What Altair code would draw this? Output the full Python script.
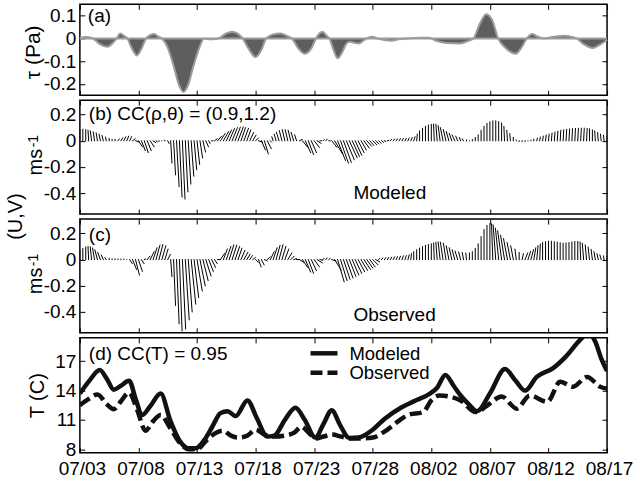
import altair as alt
import pandas as pd

FONT = "Liberation Sans"
FS = 19

# ---------------- data ----------------
X_TICKS = [0, 5, 10, 15, 20, 25, 30, 35, 40, 45]
X_LABELS = ["07/03", "07/08", "07/13", "07/18", "07/23", "07/28",
            "08/02", "08/07", "08/12", "08/17"]
STICK_STEP_DAYS = 0.25

# panel (a): wind stress tau (Pa), days since 07/03
TAU_DAY = [0, 0.5, 1.1, 1.7, 2.36, 2.9, 3.15, 3.44, 3.8, 4.05, 4.45, 4.86, 5.3, 5.65,
           6.0, 6.34, 6.7, 7.0, 7.5, 8.0, 8.5, 8.84, 9.2, 9.7, 10.2, 10.6, 11.0, 11.6,
           12.0, 12.5, 13.0, 13.5, 13.9, 14.4, 15.0, 15.5, 15.9, 16.5, 17.14, 17.7,
           18.1, 18.6, 19.2, 19.8, 20.15, 20.7, 21.1, 21.3, 21.65, 22.0, 22.4, 22.8,
           23.1, 23.5, 23.8, 24.2, 24.5, 24.9, 25.4, 26.0, 26.6, 27.2, 28.0, 29.0,
           29.8, 30.4, 31.3, 32.4, 33.1, 33.6, 34.1, 34.7, 35.2, 35.7, 36.3, 37.2,
           37.7, 38.15, 38.6, 39.0, 39.6, 40.5, 41.3, 42.0, 42.4, 43.0, 43.8, 44.3, 45.0]
TAU = [0.0, 0.006, 0.0, -0.025, -0.037, -0.015, 0.0, 0.022, 0.01, 0.0, -0.045, -0.075,
       -0.04, 0.0, 0.015, 0.02, 0.008, 0.0, -0.04, -0.12, -0.21, -0.236, -0.21, -0.12,
       -0.04, 0.0, -0.004, -0.003, 0.005, 0.022, 0.03, 0.02, 0.0, -0.045, -0.082, -0.05,
       0.0, 0.018, 0.022, 0.01, 0.0, -0.04, -0.067, -0.04, 0.0, 0.03, 0.01, 0.0, -0.05,
       -0.087, -0.06, -0.02, -0.015, -0.02, -0.022, -0.01, 0.0, 0.007, 0.0, -0.007,
       -0.01, -0.004, 0.0, 0.003, 0.003, -0.01, -0.02, -0.022, -0.012, 0.0, 0.06, 0.107,
       0.08, 0.0, -0.04, -0.067, -0.04, 0.0, 0.02, 0.01, 0.0, 0.008, 0.012, 0.007, 0.0,
       -0.025, -0.042, -0.03, -0.007]

# panel (b): modeled current sticks (m/s), one every 0.25 day
VB = [0.085, 0.087, 0.085, 0.08, 0.075, 0.068, 0.06, 0.05, 0.04, 0.028, 0.017, 0.01, 0.01, 0.014, 0.022, 0.03, 0.035, 0.031, 0.015, -0.01,
      -0.045, -0.075, -0.09, -0.075, -0.045, -0.015, -0.008, -0.005, 0.0, 0.004, -0.02, -0.17, -0.26, -0.35, -0.43, -0.445, -0.39, -0.33, -0.27, -0.22,
      -0.18, -0.13, -0.085, -0.045, -0.02, 0.0, 0.015, 0.035, 0.055, 0.07, 0.083, 0.093, 0.1, 0.104, 0.105, 0.1, 0.095, 0.082, 0.063, 0.042,
      0.02, -0.01, -0.07, -0.1, -0.06, -0.01, 0.03, 0.05, 0.065, 0.077, 0.085, 0.084, 0.08, 0.065, 0.045, 0.01, -0.05, -0.09, -0.105, -0.09,
      -0.05, -0.02, 0.0, 0.01, 0.012, 0.0, -0.05, -0.1, -0.15, -0.17, -0.165, -0.145, -0.13, -0.12, -0.11, -0.09, -0.07, -0.055, -0.04, -0.035,
      -0.03, -0.025, -0.02, -0.012, -0.005, 0.003, 0.01, 0.013, 0.015, 0.016, 0.017, 0.018, 0.02, 0.024, 0.03, 0.05, 0.075, 0.095, 0.11, 0.12,
      0.125, 0.127, 0.125, 0.115, 0.1, 0.085, 0.07, 0.057, 0.045, 0.035, 0.025, 0.015, 0.006, 0.0, 0.01, 0.025, 0.045, 0.08, 0.11, 0.133,
      0.145, 0.152, 0.152, 0.146, 0.135, 0.11, 0.08, 0.054, 0.025, 0.005, -0.005, -0.006, -0.005, 0.0, 0.005, 0.012, 0.02, 0.028, 0.035, 0.043,
      0.05, 0.058, 0.065, 0.073, 0.08, 0.084, 0.087, 0.09, 0.092, 0.094, 0.095, 0.096, 0.096, 0.094, 0.09, 0.083, 0.075, 0.062, 0.05, 0.042,
      0.035]
UB = [0, 0, 0, -0.005, -0.01, -0.01, -0.01, -0.01, -0.01, -0.005, 0, 0, 0, 0.01, 0.015, 0.015, 0.015, 0.015, 0.02, 0.03,
      0.03, 0.03, 0.03, 0.03, 0.03, 0.02, 0.01, 0, 0, 0, 0.01, 0.01, 0.015, 0.02, 0.02, 0.02, 0.02, 0.02, 0.02, 0.02,
      0.02, 0.02, 0.02, 0.02, 0.01, 0.01, 0.02, 0.03, 0.035, 0.04, 0.04, 0.04, 0.04, 0.04, 0.04, 0.035, 0.035, 0.03, 0.03, 0.025,
      0.02, 0.03, 0.03, 0.03, 0.03, 0.01, -0.01, -0.015, -0.02, -0.02, -0.02, -0.02, -0.02, -0.02, -0.015, 0.02, 0.04, 0.04, 0.04, 0.04,
      0.04, 0.03, 0.01, 0.01, 0.01, 0.01, 0.04, 0.06, 0.06, 0.06, 0.06, 0.06, 0.06, 0.055, 0.05, 0.045, 0.04, 0.04, 0.035, 0.03,
      0.03, 0.025, 0.02, 0.015, 0.01, 0.01, 0.01, 0.01, 0.01, 0.01, 0.01, 0.01, 0.01, 0.01, 0.01, 0.005, 0, 0, 0, 0,
      0, -0.005, -0.01, -0.015, -0.02, -0.02, -0.02, -0.02, -0.02, -0.015, -0.01, -0.01, 0, 0, 0, 0, 0, 0, 0, 0,
      0, 0, 0, 0, 0, -0.005, -0.005, -0.005, 0, 0, 0, 0, 0, 0, 0, 0, 0.005, 0.005, 0.005, 0.005,
      0.005, 0.005, 0.005, 0.005, 0.005, 0.005, 0.005, 0.005, 0.005, 0.005, 0.005, 0.005, 0.005, 0.005, 0, 0, -0.005, -0.005, -0.005, -0.005,
      0]

# panel (c): observed current sticks (m/s)
VC = [0.07, 0.085, 0.095, 0.1, 0.097, 0.088, 0.075, 0.055, 0.035, 0.015, 0.008, 0.005, 0.005, 0.004, 0.004, 0.003, 0.0, -0.03, -0.075, -0.118,
      -0.09, -0.03, 0.005, 0.025, 0.06, 0.09, 0.11, 0.115, 0.105, 0.08, 0.04, -0.13, -0.35, -0.49, -0.545, -0.53, -0.46, -0.4, -0.34, -0.29,
      -0.24, -0.2, -0.16, -0.125, -0.09, -0.06, -0.03, 0.0, 0.045, 0.08, 0.1, 0.112, 0.11, 0.1, 0.087, 0.07, 0.055, 0.04, 0.03, 0.015,
      -0.02, -0.055, -0.04, -0.01, 0.02, 0.06, 0.09, 0.108, 0.112, 0.1, 0.08, 0.05, 0.025, 0.008, 0.0, -0.02, -0.06, -0.095, -0.105, -0.085,
      -0.055, -0.025, -0.005, 0.01, 0.012, 0.008, -0.01, -0.08, -0.17, -0.16, -0.15, -0.14, -0.128, -0.118, -0.105, -0.093, -0.083, -0.075, -0.065, -0.055,
      -0.04, -0.018, 0.01, 0.012, 0.014, 0.016, 0.018, 0.02, 0.022, 0.025, 0.028, 0.03, 0.035, 0.045, 0.06, 0.075, 0.088, 0.1, 0.108, 0.115,
      0.12, 0.126, 0.132, 0.134, 0.132, 0.125, 0.105, 0.09, 0.075, 0.065, 0.058, 0.053, 0.05, 0.05, 0.06, 0.085, 0.12, 0.175, 0.23, 0.26,
      0.275, 0.272, 0.265, 0.24, 0.22, 0.185, 0.16, 0.13, 0.105, 0.08, 0.055, 0.045, 0.05, 0.062, 0.075, 0.09, 0.105, 0.118, 0.13, 0.136,
      0.14, 0.14, 0.136, 0.133, 0.128, 0.125, 0.126, 0.13, 0.134, 0.138, 0.138, 0.134, 0.125, 0.112, 0.095, 0.078, 0.06, 0.045, 0.035, 0.028,
      0.025]
UC = [0, 0, 0, -0.005, -0.01, -0.015, -0.02, -0.02, -0.015, -0.01, 0, 0, 0, 0, 0, 0, 0, 0.02, 0.03, 0.03,
      0.03, 0.02, 0.01, 0.02, 0.03, 0.03, 0.03, 0.03, 0.03, 0.025, 0.02, 0.01, 0.015, 0.02, 0.02, 0.025, 0.03, 0.03, 0.035, 0.035,
      0.04, 0.04, 0.04, 0.04, 0.035, 0.03, 0.02, 0.02, 0.03, 0.03, 0.035, 0.035, 0.035, 0.035, 0.03, 0.03, 0.03, 0.025, 0.02, 0.02,
      0.02, 0.02, 0.02, 0.02, 0.02, 0.03, 0.03, 0.03, 0.03, 0.03, 0.03, 0.03, 0.025, 0.02, 0.02, 0.03, 0.04, 0.04, 0.04, 0.04,
      0.04, 0.04, 0.02, 0.01, 0.01, 0.01, 0.03, 0.05, 0.05, 0.05, 0.05, 0.05, 0.05, 0.05, 0.05, 0.05, 0.05, 0.05, 0.045, 0.04,
      0.04, 0.03, 0.01, 0.01, 0.01, 0.01, 0.01, 0.01, 0.01, 0.01, 0.01, 0.01, 0.01, 0.005, 0, 0, 0, 0, 0, 0,
      0, -0.005, -0.01, -0.015, -0.02, -0.02, -0.02, -0.02, -0.02, -0.02, -0.015, -0.01, -0.005, 0, 0, 0, 0, 0, 0, 0,
      0, -0.01, -0.02, -0.025, -0.03, -0.03, -0.03, -0.025, -0.02, -0.01, 0, 0.01, 0.02, 0.02, 0.02, 0.015, 0.01, 0.005, 0, 0,
      0, 0, 0, 0, 0, 0, 0, 0, 0, 0, 0, -0.005, -0.01, -0.01, -0.01, -0.01, -0.01, -0.01, -0.01, -0.005,
      0]

# panel (d): temperature (C)
TM_DAY = [0, 0.8, 1.7, 2.3, 2.9, 3.5, 4.2, 4.8, 5.3, 6.0, 6.9, 7.7, 8.5, 9.3, 9.9, 10.6,
          11.3, 12.0, 12.6, 13.3, 14.3, 15.1, 16.0, 16.6, 17.5, 18.4, 19.2, 20.1, 20.8,
          21.5, 22.2, 23.0, 23.8, 25.0, 26.0, 27.4, 28.5, 29.9, 30.5, 31.2, 31.9, 32.5,
          33.2, 33.9, 35.0, 36.3, 37.2, 38.0, 39.0, 40.4, 41.5, 42.7, 43.4, 44.0, 44.5, 45.0]
TM = [13.7, 15.0, 16.1, 15.2, 14.1, 14.5, 15.0, 13.0, 11.5, 12.4, 13.7, 11.0, 8.9, 8.1,
      8.1, 8.9, 10.3, 11.7, 11.9, 11.4, 13.0, 11.2, 9.3, 9.4, 11.0, 12.25, 11.0, 9.2,
      10.6, 12.0, 10.5, 9.15, 9.2, 10.0, 11.1, 12.25, 12.9, 13.7, 14.3, 15.6, 14.5, 13.5,
      12.6, 11.9, 13.7, 16.2, 15.0, 14.0, 15.4, 16.3, 17.5, 19.2, 19.9, 19.0, 17.3, 16.0]
TO_DAY = [0, 0.7, 1.5, 2.3, 2.9, 3.5, 4.2, 4.9, 5.6, 6.2, 6.9, 7.7, 8.5, 9.3, 10.0, 10.8,
          11.5, 12.2, 12.9, 13.5, 14.3, 15.0, 15.8, 16.6, 17.5, 18.3, 18.9, 19.6, 20.1,
          20.8, 21.5, 22.3, 23.0, 24.0, 25.0, 26.0, 27.1, 28.0, 29.3, 30.0, 30.7, 31.5,
          32.5, 33.8, 34.8, 36.0, 37.3, 38.4, 39.9, 41.0, 42.1, 43.3, 44.4, 45.0]
TO = [12.5, 13.1, 13.6, 12.6, 12.1, 12.9, 13.8, 12.0, 9.9, 10.8, 11.5, 10.2, 8.7, 8.0,
      8.0, 8.9, 9.6, 9.9, 9.4, 9.2, 9.4, 10.0, 9.5, 9.3, 9.4, 9.7, 10.3, 9.6, 9.1, 9.3,
      9.5, 9.3, 9.1, 9.1, 9.2, 9.8, 10.8, 11.5, 11.8, 13.0, 13.5, 13.4, 13.0, 11.8, 12.5,
      13.4, 12.15, 13.5, 12.85, 14.9, 14.4, 15.4, 14.4, 14.2]

LEGEND_LABELS = ["Modeled", "Observed"]

YT_A = [-0.2, -0.1, 0, 0.1]
YT_UV = [-0.4, -0.2, 0, 0.2]
YT_T = [8, 11, 14, 17]

assert len(VB) == len(UB) == len(VC) == len(UC) == 181
STICK_DAYS = [i * STICK_STEP_DAYS for i in range(len(VB))]

# ---------------- layout ----------------
W = 528
HA, HB, HC, HD = 91, 114, 114, 115

XS = alt.Scale(domain=[0, 45], nice=False, zero=False)
YA = alt.Scale(domain=[-0.25, 0.15], nice=False, zero=False)
YUV = alt.Scale(domain=[-0.56, 0.31], nice=False, zero=False)
YT = alt.Scale(domain=[7.65, 19.4], nice=False, zero=False)

# horizontal stretch of a stick per unit of u (days per m/s), equal aspect
K_STICK = (HB / 0.87) / (W / 45.0)

XLAB = "[" + ",".join("'%s'" % s for s in X_LABELS) + "][round(datum.value / 5)]"
YLAB = "(datum.value < 0 ? '-' : '') + format(abs(datum.value), '~g')"

TICK = dict(offset=-5, tickSize=5, tickColor="black", tickWidth=1,
            domain=False, grid=False, title=None)


def xb(labels):
    kw = dict(orient="bottom", values=X_TICKS, labels=labels, **TICK)
    if labels:
        kw.update(labelExpr=XLAB, labelFontSize=FS, labelFont=FONT, labelColor="black",
                  labelPadding=7, labelFlush=False, labelOverlap=False, labelOffset=2)
    return alt.Axis(**kw)


def xt():
    return alt.Axis(orient="top", values=X_TICKS, labels=False, **TICK)


def yl(vals):
    return alt.Axis(orient="left", values=vals, labelExpr=YLAB, labelFontSize=FS,
                    labelFont=FONT, labelColor="black", labelPadding=4,
                    labelOverlap=False, labelFlush=False, **TICK)


def yr(vals):
    return alt.Axis(orient="right", values=vals, labels=False, **TICK)


def txt(s, x, y, size=FS, angle=0, align="left"):
    return alt.Chart(pd.DataFrame({"s": [s]})).mark_text(
        font=FONT, fontSize=size, angle=angle, align=align, baseline="alphabetic",
        color="black").encode(text="s:N", x=alt.value(x), y=alt.value(y))


# ---------------- panel (a) ----------------
df_tau = pd.DataFrame({"day": TAU_DAY, "tau": TAU})
base_a = alt.Chart(df_tau).transform_calculate(base="0")
area_a = base_a.mark_area(color="#5e5e5e", interpolate="monotone").encode(
    x=alt.X("day:Q", scale=XS, axis=xb(False)),
    y=alt.Y("tau:Q", scale=YA, axis=yl(YT_A)),
    y2="base:Q")
line_a = base_a.mark_line(color="#9c9c9c", strokeWidth=2, interpolate="monotone").encode(
    x=alt.X("day:Q", scale=XS, axis=None),
    y=alt.Y("tau:Q", scale=YA, axis=None))
zero_a = alt.Chart(pd.DataFrame({"zero": [0.0]})).mark_rule(color="#9c9c9c", strokeWidth=2).encode(
    y=alt.Y("zero:Q", scale=YA, axis=None))
ghost_a = base_a.mark_point(opacity=0).encode(
    x=alt.X("day:Q", scale=XS, axis=xt()),
    y=alt.Y("tau:Q", scale=YA, axis=yr(YT_A)))
anchor = alt.Chart(pd.DataFrame({"s": [""]})).mark_rect(opacity=0).encode(
    x=alt.value(-79), x2=alt.value(-78), y=alt.value(-3), y2=alt.value(-2))

pa = alt.layer(
    area_a, line_a, zero_a, ghost_a, anchor,
    txt("(a)", 8, 18),
    txt("\u03c4 (Pa)", -40, 48, size=21, angle=270, align="center"),
).resolve_axis(x="independent", y="independent").properties(width=W, height=HA)


# ---------------- panels (b), (c) ----------------
def stick_panel(V, U, H, label, label_y, name, name_y, extra):
    df = pd.DataFrame({"day": STICK_DAYS, "u": U, "v": V})
    base = alt.Chart(df)
    sticks = base.transform_calculate(
        zero="0", tip="datum.day + datum.u * %.4f" % K_STICK
    ).mark_rule(color="black", strokeWidth=1, strokeCap="square", clip=True).encode(
        x=alt.X("day:Q", scale=XS, axis=xb(False)),
        x2="tip:Q",
        y=alt.Y("zero:Q", scale=YUV, axis=yl(YT_UV)),
        y2="v:Q")
    ghost = base.mark_point(opacity=0).encode(
        x=alt.X("day:Q", scale=XS, axis=xt()),
        y=alt.Y("v:Q", scale=YUV, axis=yr(YT_UV)))
    layers = [sticks, ghost,
              txt(label, 9, label_y),
              txt(name, 274, name_y),
              txt("ms", -38, 62, size=20, angle=270, align="center"),
              txt("-1", -42, 41, size=14, angle=270, align="center")] + extra
    return alt.layer(*layers).resolve_axis(x="independent", y="independent").properties(
        width=W, height=H)


pb = stick_panel(VB, UB, HB, "(b) CC(\u03c1,\u03b8) = (0.9,1.2)", 20, "Modeled", 99,
                 [txt("(U,V)", -58, 116.5, size=20, angle=270, align="center")])
pc = stick_panel(VC, UC, HC, "(c)", 22, "Observed", 102, [])

# ---------------- panel (d) ----------------
df_m = pd.DataFrame({"day": TM_DAY, "T": TM})
df_o = pd.DataFrame({"day": TO_DAY, "T": TO})
line_m = alt.Chart(df_m).mark_line(color="#111111", strokeWidth=4.5, interpolate="monotone",
                                   clip=True).encode(
    x=alt.X("day:Q", scale=XS, axis=xb(True)),
    y=alt.Y("T:Q", scale=YT, axis=yl(YT_T)))
line_o = alt.Chart(df_o).mark_line(color="#111111", strokeWidth=4.5, strokeDash=[12, 5],
                                   interpolate="monotone", clip=True).encode(
    x=alt.X("day:Q", scale=XS, axis=None),
    y=alt.Y("T:Q", scale=YT, axis=None))
ghost_d = alt.Chart(df_m).mark_point(opacity=0).encode(
    x=alt.X("day:Q", scale=XS, axis=xt()),
    y=alt.Y("T:Q", scale=YT, axis=yr(YT_T)))
leg_m = alt.Chart(pd.DataFrame({"s": [LEGEND_LABELS[0]]})).mark_rule(
    color="#111111", strokeWidth=4.5).encode(x=alt.value(231), x2=alt.value(258), y=alt.value(15.5))
leg_o = alt.Chart(pd.DataFrame({"s": [LEGEND_LABELS[1]]})).mark_rule(
    color="#111111", strokeWidth=4.5, strokeDash=[12, 5]).encode(
    x=alt.value(231), x2=alt.value(258), y=alt.value(35))

pd_ = alt.layer(
    line_o, line_m, ghost_d, leg_m, leg_o,
    txt(LEGEND_LABELS[0], 270, 22, size=18.5),
    txt(LEGEND_LABELS[1], 270, 41.5, size=18.5),
    txt("(d) CC(T) = 0.95", 9, 22),
    txt("T (C)", -36, 58, size=20, angle=270, align="center"),
).resolve_axis(x="independent", y="independent").properties(width=W, height=HD)

chart = alt.vconcat(pa, pb, pc, pd_, spacing=5, bounds="flush").properties(
    padding=0
).configure(font=FONT).configure_view(stroke="black", strokeWidth=1.5)

chart.save("out.html", embed_options={"renderer": "svg", "actions": False})
